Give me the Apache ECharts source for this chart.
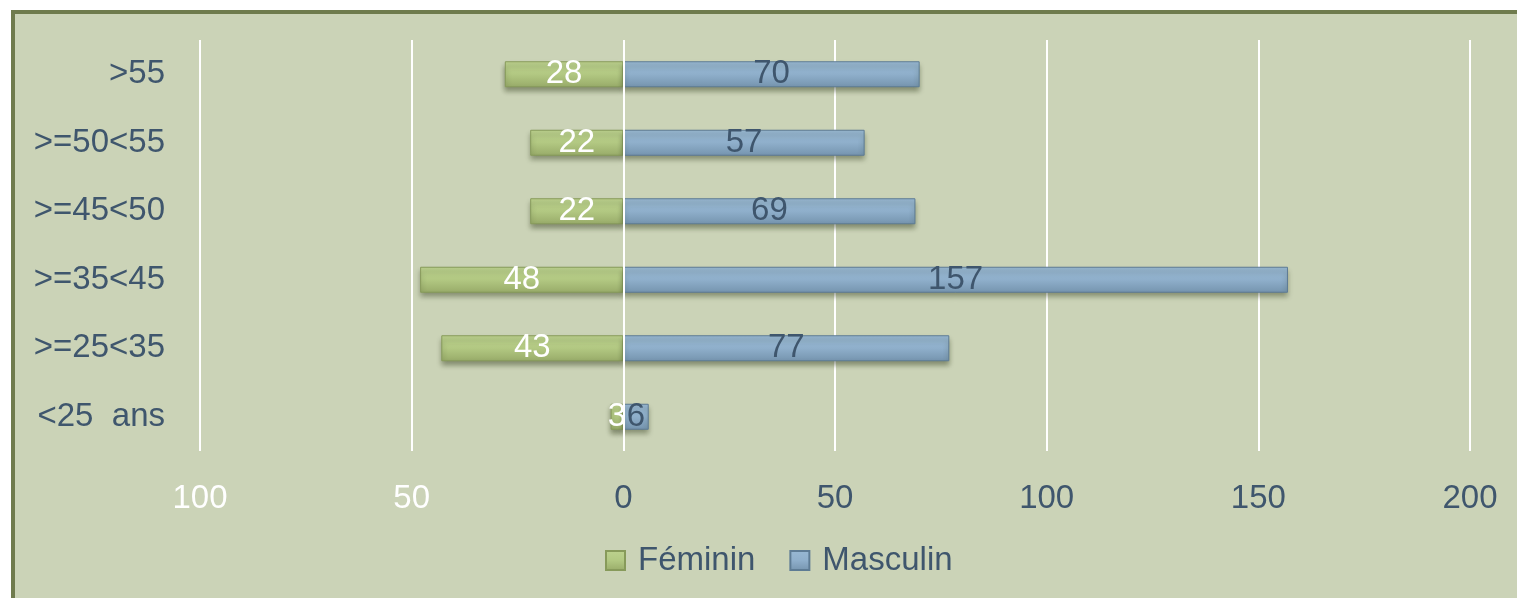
<!DOCTYPE html>
<html>
<head>
<meta charset="utf-8">
<script src="https://cdn.jsdelivr.net/npm/echarts@6/dist/echarts.min.js"></script>
<style>
  html, body { margin: 0; padding: 0; background: #ffffff; overflow: hidden; }
  #frame {
    position: absolute; left: 11px; top: 10px; width: 2000px; height: 1000px;
    border-left: 4px solid #6f7b4d; border-top: 4px solid #6f7b4d;
    background: #cbd3b7;
  }
  #main { position: absolute; left: 0; top: 0; width: 1517px; height: 598px; }
</style>
</head>
<body>
<div id="frame"></div>
<div id="main"></div>
<script>
// tranches d'age (du bas vers le haut)
var categories = ['<25  ans', '>=25<35', '>=35<45', '>=45<50', '>=50<55', '>55'];
var feminin = [3, 43, 48, 22, 22, 28];
var masculin = [6, 77, 157, 69, 57, 70];
var seriesNames = ['Féminin', 'Masculin'];

var textColor = '#3f566d';
var fontFamily = '"Liberation Sans", Arial, sans-serif';
var fs = 33;

var myChart = echarts.init(document.getElementById('main'));

function barStyle(top, mid, bottom, border) {
  return {
    color: new echarts.graphic.LinearGradient(0, 0, 0, 1, [
      { offset: 0, color: top },
      { offset: 0.5, color: mid },
      { offset: 1, color: bottom }
    ]),
    borderColor: border,
    borderWidth: 1,
    shadowColor: 'rgba(40,50,20,0.45)',
    shadowBlur: 5,
    shadowOffsetY: 4
  };
}

var option = {
  animation: false,
  textStyle: { fontFamily: fontFamily },
  grid: { left: 200, right: 47, top: 40, bottom: 147 },
  legend: {
    bottom: 16,
    left: 600,
    itemWidth: 19,
    itemHeight: 19,
    itemGap: 34,
    icon: 'rect',
    textStyle: { fontSize: fs, color: textColor, fontFamily: fontFamily, padding: [0, 0, 0, 8] },
    data: seriesNames
  },
  xAxis: {
    type: 'value',
    min: -100,
    max: 200,
    interval: 50,
    axisLine: { show: false },
    axisTick: { show: false },
    splitLine: { lineStyle: { color: '#ffffff', width: 2 } },
    axisLabel: {
      fontSize: fs,
      margin: 31,
      formatter: function (v) { return Math.abs(v); },
      color: function (v) { return v < 0 ? '#ffffff' : textColor; }
    }
  },
  yAxis: {
    type: 'category',
    data: categories,
    axisLine: { show: false },
    axisTick: { show: false },
    axisLabel: { fontSize: fs, color: textColor, margin: 35 }
  },
  series: [
    {
      name: seriesNames[0],
      type: 'bar',
      stack: 'pop',
      barWidth: 26,
      data: feminin.map(function (v) { return -v; }),
      itemStyle: barStyle('#bdd28f', '#b2c882', '#98ab69', '#879a5a'),
      label: {
        show: true,
        position: 'inside',
        fontSize: fs,
        color: '#ffffff',
        formatter: function (p) { return Math.abs(p.value); }
      },
      markLine: {
        silent: true,
        symbol: 'none',
        label: { show: false },
        lineStyle: { color: '#ffffff', width: 2, type: 'solid' },
        data: [{ xAxis: 0 }]
      }
    },
    {
      name: seriesNames[1],
      type: 'bar',
      stack: 'pop',
      barWidth: 26,
      data: masculin,
      itemStyle: barStyle('#98b8d3', '#8fafcb', '#7594ae', '#5d7b94'),
      label: {
        show: true,
        position: 'inside',
        fontSize: fs,
        color: textColor
      }
    }
  ]
};
myChart.setOption(option);
</script>
</body>
</html>
